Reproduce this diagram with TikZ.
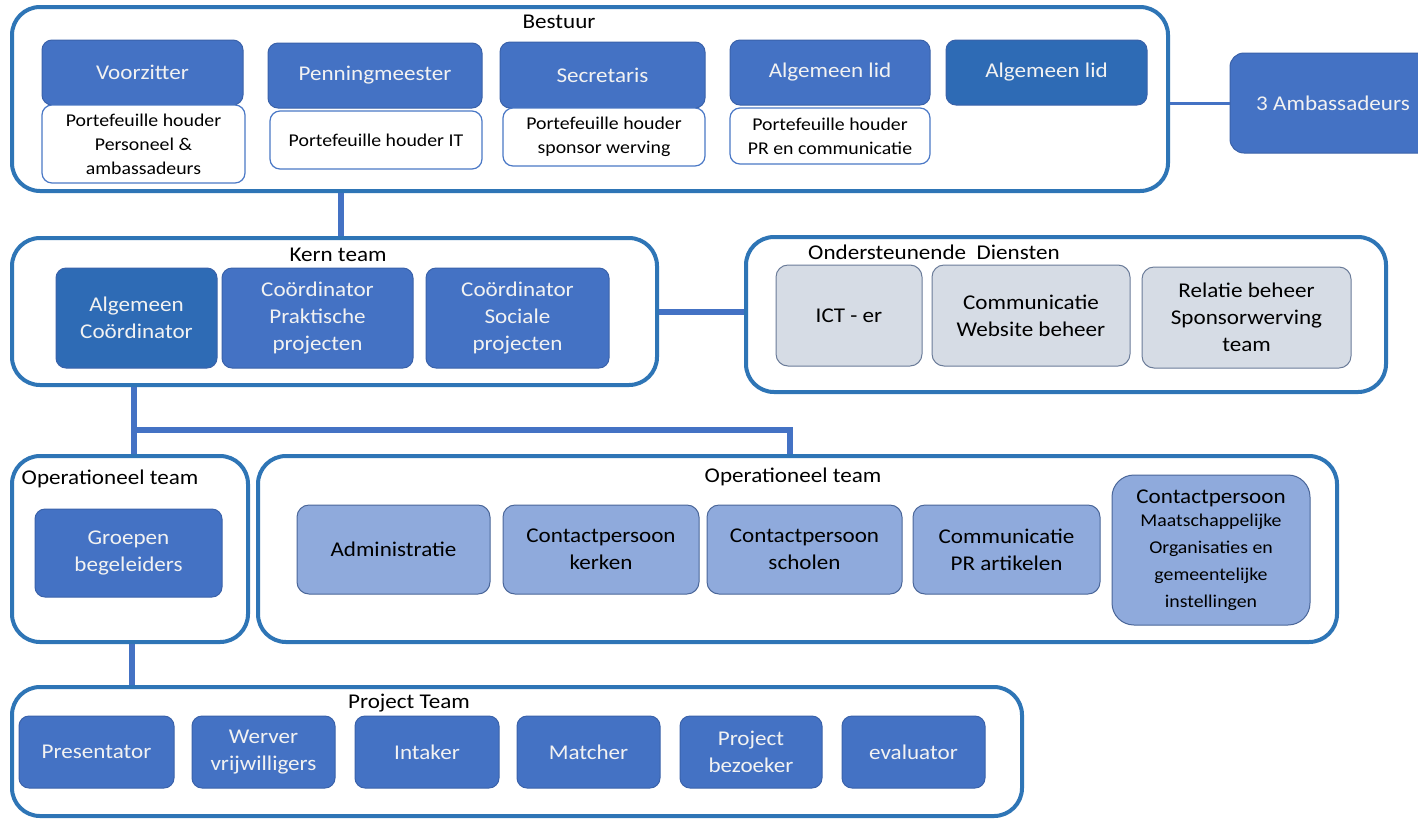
\documentclass[tikz,border=0pt]{standalone}
\usepackage{fontspec}
\setmainfont{Carlito}[FakeStretch=1.1]
\definecolor{cont}{HTML}{2E75B6}
\definecolor{dkblue}{HTML}{4472C4}
\definecolor{dkblue2}{HTML}{2E6BB5}
\definecolor{dkline}{HTML}{3A62AA}
\definecolor{whline}{HTML}{4A78C6}
\definecolor{grfill}{HTML}{D6DCE5}
\definecolor{grline}{HTML}{6B7C99}
\definecolor{lbfill}{HTML}{8FAADC}
\definecolor{lbline}{HTML}{4A6699}
\definecolor{connc}{HTML}{4472C4}
\begin{document}
\begin{tikzpicture}[x=1pt,y=-1pt,
  container/.style={draw=cont, line width=4pt, rounded corners=28pt, fill=white, inner sep=0pt},
  dk/.style={fill=dkblue, draw=dkline, line width=1pt, rounded corners=10pt, text=white!95!black, align=center, inner sep=2pt, font=\fontsize{21}{27}\selectfont},
  dktwo/.style={dk, fill=dkblue2},
  wh/.style={fill=white, draw=whline, line width=1.2pt, rounded corners=10pt, align=center, inner sep=2pt, font=\fontsize{18}{24}\selectfont},
  gr/.style={fill=grfill, draw=grline, line width=1pt, rounded corners=12pt, align=center, inner sep=2pt, font=\fontsize{21}{27}\selectfont},
  lb/.style={fill=lbfill, draw=lbline, line width=1pt, rounded corners=12pt, align=center, inner sep=2pt, font=\fontsize{21}{27}\selectfont},
  ttl/.style={inner sep=0pt, font=\fontsize{21}{25}\selectfont},
  conn/.style={draw=connc, line width=6pt},
  thin conn/.style={draw=connc, line width=3pt}
]
\useasboundingbox (0,0) rectangle (1418,820);
\clip (0,0) rectangle (1418,820);
\fill[white] (0,0) rectangle (1418,820);

% helper coordinates for connector x positions
\coordinate (x341) at (341,0);
\coordinate (x134) at (134,0);
\coordinate (x132) at (132,0);
\coordinate (x790) at (790,0);
\coordinate (j) at (134,430);

% ---------------- Bestuur ----------------
\node[container, minimum width=1156pt, minimum height=184pt] (bestuur) at (590,99) {};
\node[ttl] (bestuurT) at (559,22) {Bestuur};

\node[dk, minimum width=201pt, minimum height=65pt] (voorz) at (142.5,72.5) {Voorzitter};
\node[wh, minimum width=203pt, minimum height=78pt] (voorzW) at (143.5,144) {Portefeuille houder\\Personeel \&\\ambassadeurs};

\node[dk, minimum width=214pt, minimum height=65pt] (penn) at (375,75.5) {Penningmeester};
\node[wh, minimum width=212pt, minimum height=58pt] (pennW) at (376,140) {Portefeuille houder IT};

\node[dk, minimum width=205pt, minimum height=66pt] (secr) at (602.5,75) {Secretaris};
\node[wh, minimum width=202pt, minimum height=58pt] (secrW) at (604,137) {Portefeuille houder\\sponsor werving};

\node[dk, minimum width=200pt, minimum height=65pt] (alg) at (830,72.5) {Algemeen lid};
\node[wh, minimum width=200pt, minimum height=56pt] (algW) at (830,136) {Portefeuille houder\\PR en communicatie};

\node[dktwo, minimum width=201pt, minimum height=65pt] (alg2) at (1046.5,72.5) {Algemeen lid};

\node[dk, minimum width=206pt, minimum height=100pt, rounded corners=14pt] (amb) at (1333,103) {3 Ambassadeurs};
\draw[thin conn] (amb.west) -- (amb.west -| bestuur.east);

% ---------------- Kern team ----------------
\node[container, minimum width=645pt, minimum height=147pt] (kern) at (334.5,311.5) {};
\node[ttl] (kernT) at (338,255) {Kern team};
\node[dktwo, minimum width=161pt, minimum height=100pt] (algc) at (136.5,318) {Algemeen\\Coördinator};
\node[dk, minimum width=191pt, minimum height=100pt] (prak) at (317.5,318) {Coördinator\\Praktische\\projecten};
\node[dk, minimum width=183pt, minimum height=100pt] (soc) at (517.5,318) {Coördinator\\Sociale\\projecten};

\draw[conn] (bestuur.south -| x341) -- (kern.north -| x341);

% ---------------- Ondersteunende Diensten ----------------
\node[container, minimum width=640pt, minimum height=155pt] (ond) at (1066,314.5) {};
\node[ttl, anchor=west] (ondT) at (808,252) {Ondersteunende~~Diensten};
\node[gr, minimum width=146pt, minimum height=101pt] (ict) at (849,315.5) {ICT - er};
\node[gr, minimum width=198pt, minimum height=101pt] (web) at (1031,315.5) {Communicatie\\Website beheer};
\node[gr, minimum width=209pt, minimum height=101pt] (rel) at (1246.5,317.5) {Relatie beheer\\Sponsorwerving\\team};

\draw[conn] (kern.east) -- (kern.east -| ond.west);

% ---------------- Operationeel team (small) ----------------
\node[container, minimum width=236pt, minimum height=186pt] (opsmall) at (130,549) {};
\node[ttl] (opsmallT) at (110,479) {Operationeel team};
\node[dk, minimum width=187pt, minimum height=88pt] (groep) at (128.5,553) {Groepen\\begeleiders};

% ---------------- Operationeel team (big) ----------------
\node[container, minimum width=1079pt, minimum height=186pt] (opbig) at (797.5,549) {};
\node[ttl] (opbigT) at (793,477) {Operationeel team};
\node[lb, minimum width=193pt, minimum height=89pt] (adm) at (393.5,549.5) {Administratie};
\node[lb, minimum width=196pt, minimum height=89pt] (kerk) at (601,549.5) {Contactpersoon\\kerken};
\node[lb, minimum width=195pt, minimum height=89pt] (schol) at (804.5,549.5) {Contactpersoon\\scholen};
\node[lb, minimum width=187pt, minimum height=89pt] (compr) at (1006.5,549.5) {Communicatie\\PR artikelen};
\node[lb, minimum width=198pt, minimum height=150pt, rounded corners=22pt] (maat) at (1211,550) {Contactpersoon\\[-4pt]{\fontsize{18}{21}\selectfont Maatschappelijke}\\{\fontsize{18}{21}\selectfont Organisaties en}\\{\fontsize{18}{21}\selectfont gemeentelijke}\\{\fontsize{18}{21}\selectfont instellingen}};

\draw[conn] (kern.south -| x134) -- (opsmall.north -| x134);
\draw[conn] (j) -| (opbig.north -| x790);

% ---------------- Project Team ----------------
\node[container, minimum width=1010pt, minimum height=129pt] (proj) at (517,751.5) {};
\node[ttl] (projT) at (409,703) {Project Team};
\node[dk, minimum width=155pt, minimum height=72pt] (pres) at (96.5,752) {Presentator};
\node[dk, minimum width=143pt, minimum height=72pt] (werv) at (263.5,752) {Werver\\vrijwilligers};
\node[dk, minimum width=144pt, minimum height=72pt] (intk) at (427,752) {Intaker};
\node[dk, minimum width=143pt, minimum height=72pt] (matc) at (588.5,752) {Matcher};
\node[dk, minimum width=142pt, minimum height=72pt] (bezk) at (751,752) {Project\\bezoeker};
\node[dk, minimum width=143pt, minimum height=72pt] (eval) at (913.5,752) {evaluator};

\draw[conn] (opsmall.south -| x132) -- (proj.north -| x132);
\end{tikzpicture}
\end{document}
